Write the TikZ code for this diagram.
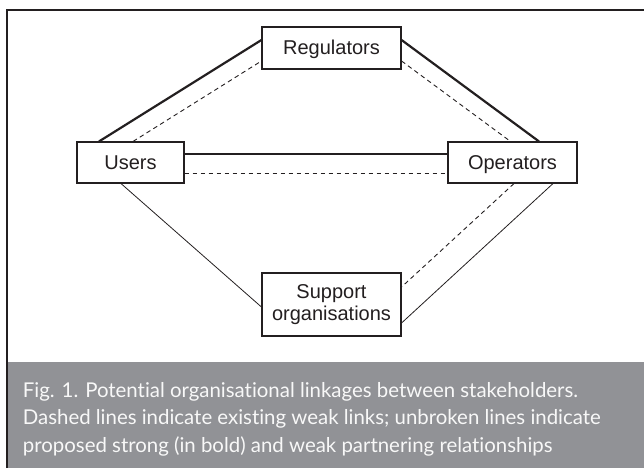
\documentclass[tikz,border=0pt]{standalone}
\usepackage{fontspec}
\setmainfont{Liberation Sans}
\newfontfamily\capfont[Ligatures=NoCommon]{Lato}
\definecolor{ink}{RGB}{35,31,32}
\definecolor{band}{RGB}{145,146,150}
\definecolor{captext}{RGB}{248,248,248}
\begin{document}
\begin{tikzpicture}[x=1pt,y=1pt,
  actor/.style={draw=ink, line width=1.1pt, fill=white, inner sep=0pt,
    font=\fontsize{20}{22.5}\selectfont, text=ink, align=center},
  oneline/.style={text height=14pt, text depth=0pt},
  strong/.style={draw=ink, line width=2.2pt},
  weak/.style={draw=ink, line width=0.8pt},
  existing/.style={draw=ink, line width=0.9pt, dash pattern=on 4.5pt off 3.5pt},
  frame/.style={draw=ink, line width=2pt, line join=miter},
  caption/.style={inner sep=0pt, text=captext, font=\capfont\fontsize{20.4}{27.5}\selectfont}]
\useasboundingbox (0,0) rectangle (644,-468);

% caption band and outer frame
\fill[band] (7.7,-362) rectangle (644,-468);
\draw[frame] (6.7,-468) -- (6.7,-10) -- (644,-10);

% stakeholders
\node[actor, oneline, minimum width=139pt, minimum height=42pt] (reg) at (331.5,-48) {Regulators};
\node[actor, oneline, minimum width=107pt, minimum height=41pt] (users) at (130.5,-162.5) {Users};
\node[actor, oneline, minimum width=129pt, minimum height=41pt] (ops) at (512.5,-162.5) {Operators};
\node[actor, minimum width=139pt, minimum height=63pt] (sup) at (331.5,-304.5) {Support\\organisations};

% linkages
\draw[strong] ([xshift=-31.5pt]users.north) -- ([yshift=8pt]reg.west);
\draw[existing] ([xshift=2.5pt]users.north) -- ([yshift=-13pt]reg.west);
\draw[strong] ([yshift=8pt]reg.east) -- ([xshift=26.5pt]ops.north);
\draw[existing] ([yshift=-13pt]reg.east) -- ([xshift=-2pt]ops.north);
\draw[strong] ([yshift=8.5pt]users.east) -- ([yshift=8.5pt]ops.west);
\draw[existing] ([yshift=-10.5pt]users.east) -- ([yshift=-10.5pt]ops.west);
\draw[weak] ([xshift=-9.5pt]users.south) -- ([yshift=-2.5pt]sup.west);
\draw[existing] ([xshift=1.5pt]ops.south) -- ([yshift=17.5pt]sup.east);
\draw[weak] ([xshift=40.5pt]ops.south) -- ([yshift=-18.5pt]sup.east);

% caption text
\node[caption, anchor=base west] (cap1) at (22.7,-397) {Fig. 1. Potential organisational linkages between stakeholders.};
\node[caption, anchor=base west] (cap2) at (22.7,-424.5) {Dashed lines indicate existing weak links; unbroken lines indicate};
\node[caption, anchor=base west] (cap3) at (22.7,-452) {proposed strong (in bold) and weak partnering relationships};
\end{tikzpicture}
\end{document}
